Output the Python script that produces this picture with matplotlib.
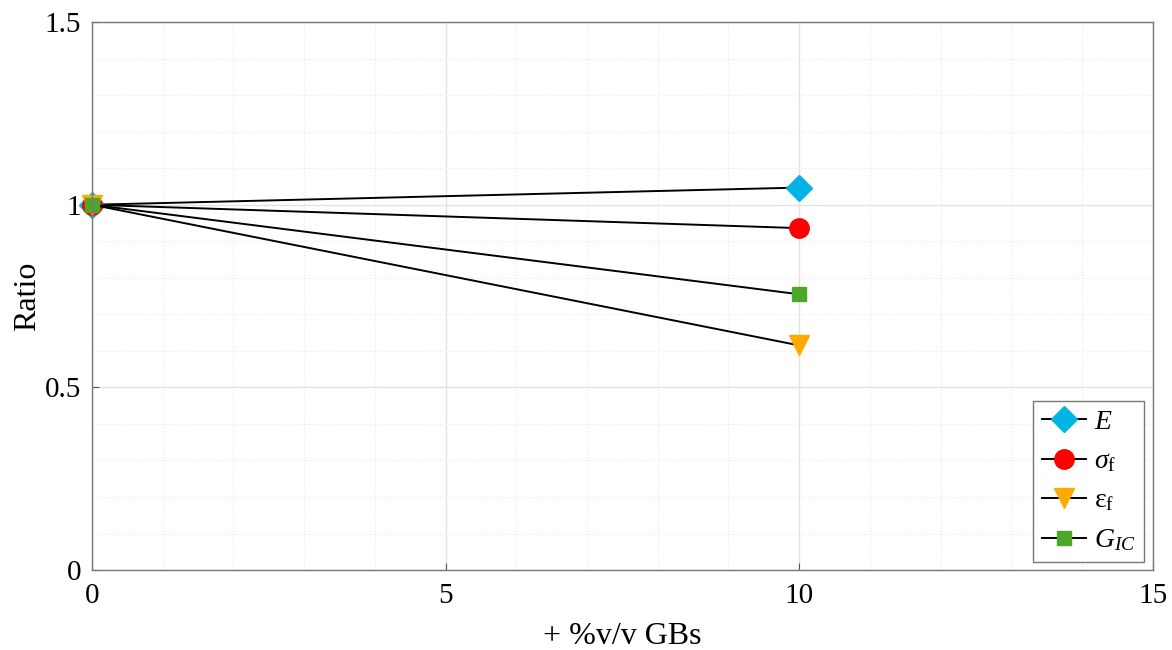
import matplotlib.pyplot as plt
from matplotlib.ticker import MultipleLocator

plt.rcParams['font.family'] = ['Liberation Serif', 'DejaVu Serif']
plt.rcParams['mathtext.fontset'] = 'custom'
plt.rcParams['mathtext.rm'] = 'Liberation Serif'
plt.rcParams['mathtext.it'] = 'Liberation Serif:italic'

# data
x_vals = [0, 10]
E = [1.0, 1.047]
sigma_f = [1.0, 0.936]
eps_f = [1.0, 0.615]
G_IC = [1.0, 0.755]
x_ticks = [0, 5, 10, 15]
y_ticks = [0, 0.5, 1, 1.5]
x_ticklabels = ['0', '5', '10', '15']
y_ticklabels = ['0', '0.5', '1', '1.5']

series = [
    (E, 'D', '#00b4e6', r'$E$', 13),
    (sigma_f, 'o', '#ff0000', r'$\sigma_{\rm f}$', 14),
    (eps_f, 'v', '#ffaa00', r'$\rm \varepsilon_{f}$', 15),
    (G_IC, 's', '#4ea72a', r'$G_{IC}$', 10),
]

fig = plt.figure(figsize=(11.72, 6.5), dpi=100)
ax = fig.add_axes([0.0785, 0.123, 0.905, 0.843])

for ys, m, c, lab, ms in series:
    ax.plot(x_vals, ys, color='black', lw=1.4, marker=m, markersize=ms,
            markerfacecolor=c, markeredgecolor=c, label=lab, clip_on=False)

ax.set_xlim(0, 15)
ax.set_ylim(0, 1.5)
ax.set_xticks(x_ticks)
ax.set_xticklabels(x_ticklabels)
ax.set_yticks(y_ticks)
ax.set_yticklabels(y_ticklabels)
ax.xaxis.set_minor_locator(MultipleLocator(1))
ax.yaxis.set_minor_locator(MultipleLocator(0.1))
ax.tick_params(which='major', direction='in', length=5, labelsize=21, color='#555555')
ax.tick_params(axis='x', which='major', pad=9)
ax.tick_params(axis='y', which='major', pad=8)
ax.tick_params(which='minor', length=0)
ax.grid(which='major', color='#e2e2e2', lw=1.0)
ax.grid(which='minor', color='#e8e8e8', lw=0.8, ls=':')
ax.set_axisbelow(True)
for s in ax.spines.values():
    s.set_color('#777777')
    s.set_linewidth(1.0)

ax.set_xlabel('+ %v/v GBs', fontsize=23, labelpad=10)
ax.set_ylabel('Ratio', fontsize=23)
ax.yaxis.set_label_coords(-0.047, 0.5)

leg = ax.legend(loc='lower right', fontsize=20, fancybox=False, framealpha=1,
                edgecolor='#777777', handlelength=1.6, borderpad=0.3,
                labelspacing=0.5, handletextpad=0.3, borderaxespad=0.3)
leg.get_frame().set_linewidth(1.0)

fig.savefig('out.png', dpi=100)
